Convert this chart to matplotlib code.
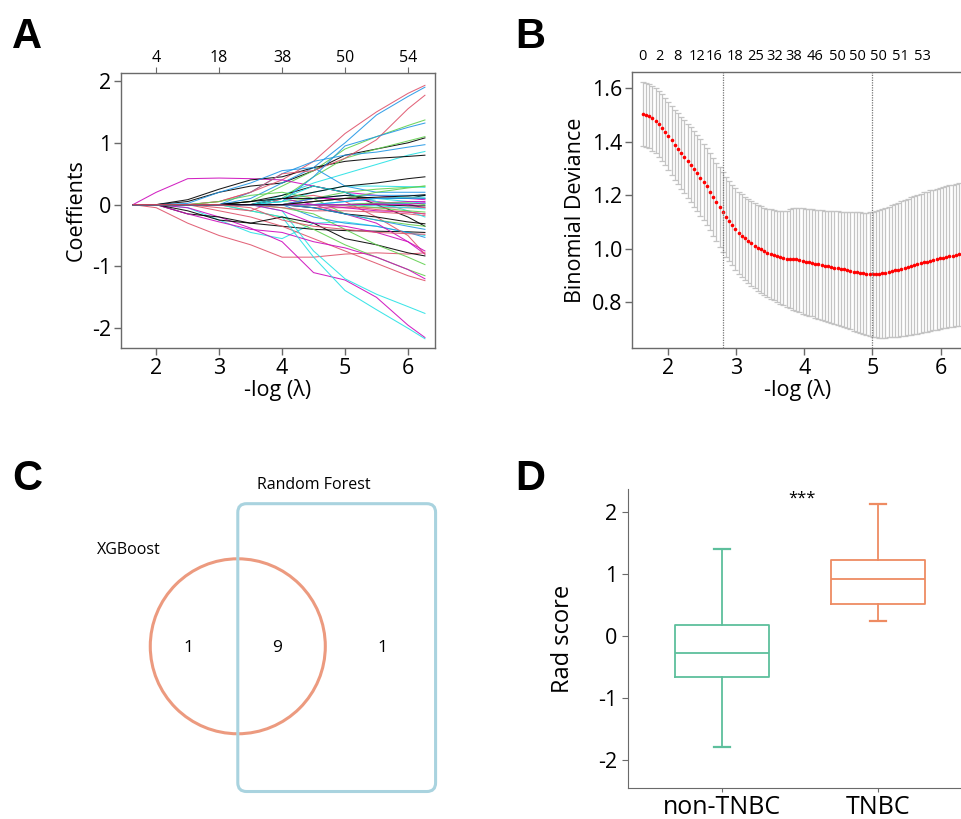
import matplotlib
matplotlib.use('Agg')
import matplotlib.pyplot as plt
from matplotlib.patches import Circle, FancyBboxPatch
import numpy as np

plt.rcParams['font.family'] = ['Open Sans', 'DejaVu Sans']
plt.rcParams['axes.unicode_minus'] = False

# ---- A: lasso coefficient paths ----
path_x = [1.63, 2.0, 2.5, 3.0, 3.5, 4.0, 4.5, 5.0, 5.5, 6.0, 6.27]
coef_paths = [
    [0, 0, 0.05, 0.2, 0.3, 0.35, 0.55, 0.8, 0.9, 1.0, 1.08],
    [0, 0, 0, 0.05, 0.2, 0.4, 0.7, 1.15, 1.5, 1.8, 1.93],
    [0, 0, 0, 0, 0.05, 0.3, 0.55, 0.9, 1.1, 1.28, 1.37],
    [0, 0, 0, 0, 0.1, 0.35, 0.6, 1.0, 1.45, 1.75, 1.9],
    [0, 0, 0, 0, 0, 0.15, 0.35, 0.5, 0.65, 0.8, 0.86],
    [0, 0.2, 0.42, 0.43, 0.42, 0.4, 0.3, 0.2, 0.15, 0.1, 0.08],
    [0, 0, 0.08, 0.25, 0.4, 0.45, 0.6, 0.7, 0.75, 0.78, 0.8],
    [0, -0.05, -0.3, -0.5, -0.65, -0.85, -0.85, -0.8, -0.78, -0.8, -0.78],
    [0, 0, 0, 0, 0, 0.1, 0.45, 0.75, 0.9, 1.03, 1.1],
    [0, 0, 0, 0, 0.2, 0.5, 0.7, 0.8, 0.85, 0.93, 0.97],
    [0, 0, -0.05, -0.25, -0.45, -0.55, -0.3, -0.28, -0.35, -0.45, -0.5],
    [0, 0, -0.05, -0.2, -0.38, -0.6, -1.1, -1.22, -1.5, -1.95, -2.15],
    [0, 0, -0.15, -0.2, -0.3, -0.35, -0.4, -0.42, -0.43, -0.44, -0.45],
    [0, 0, 0, -0.1, -0.2, -0.35, -0.55, -0.75, -0.95, -1.15, -1.23],
    [0, 0, 0, 0, -0.1, -0.2, -0.4, -0.65, -0.85, -1.05, -1.15],
    [0, 0, 0.02, 0.2, 0.35, 0.55, 0.6, 0.3, 0.2, 0.2, 0.2],
    [0, 0, 0, 0, 0, -0.1, -0.75, -1.2, -1.45, -1.65, -1.76],
    [0, 0, -0.15, -0.28, -0.4, -0.45, -0.6, -0.7, -0.85, -1.05, -1.2],
    [0, 0, 0, 0, 0.05, 0.15, 0.3, 0.2, 0.0, -0.2, -0.35],
    [0, 0, 0, 0.05, 0.2, 0.5, 0.55, 0.75, 1.05, 1.55, 1.77],
    [0, 0, 0, 0, 0, 0.05, 0.1, 0.2, 0.25, 0.28, 0.3],
    [0, 0, 0, 0, 0, 0, -0.2, -0.3, -0.35, -0.45, -0.53],
    [0, 0, 0, 0, -0.1, -0.2, -0.85, -1.39, -1.7, -2.0, -2.17],
    [0, 0, 0, 0, 0, 0.1, 0.0, -0.15, -0.3, -0.6, -0.8],
    [0, 0, -0.1, -0.25, -0.3, -0.2, -0.3, -0.55, -0.65, -0.78, -0.83],
    [0, 0, 0, -0.05, -0.1, 0.1, 0.15, 0.05, -0.2, -0.5, -0.8],
    [0, 0, 0, 0, 0, -0.05, -0.15, -0.4, -0.65, -0.85, -0.97],
    [0, 0, 0, 0, 0, 0.05, 0.45, 0.95, 1.1, 1.25, 1.32],
    [0, 0, 0, 0, 0, 0.05, 0.2, 0.3, 0.3, 0.29, 0.28],
    [0, 0, 0, 0, 0, 0, 0.1, 0.1, 0.05, 0.0, -0.05],
    [0, 0, 0, 0, 0, 0.1, 0.2, 0.3, 0.35, 0.42, 0.45],
    [0, 0, 0, 0, 0, -0.05, -0.1, -0.1, -0.12, -0.15, -0.18],
    [0, 0, 0, 0.05, 0.15, 0.2, 0.1, -0.15, -0.25, -0.32, -0.35],
    [0, 0, 0, 0, 0, 0, 0.1, 0.15, 0.15, 0.15, 0.15],
    [0, 0, 0, 0, 0, 0.1, 0.3, 0.2, 0.05, -0.1, -0.2],
    [0, 0, 0, 0, 0, -0.1, -0.3, -0.35, -0.45, -0.6, -0.75],
    [0, 0, 0, 0, 0.05, 0.1, 0.1, 0.15, 0.1, 0.1, 0.15],
    [0, 0, 0, 0, 0, 0, -0.05, -0.05, -0.05, -0.05, -0.05],
    [0, 0, 0, 0, 0, 0, 0.05, 0.1, 0.2, 0.27, 0.3],
    [0, 0, 0, 0, 0, 0, 0, 0, 0.02, 0.02, 0.02],
    [0, 0, 0, 0, 0, 0, 0.05, 0.1, 0.1, 0.05, 0.02],
    [0, 0, 0, 0, 0, 0, 0, -0.05, -0.1, -0.12, -0.15],
    [0, 0, 0, 0, 0, 0, -0.05, -0.15, -0.2, -0.28, -0.31],
    [0, 0, 0, 0, 0, 0, 0.05, 0.1, 0.1, 0.12, 0.1],
    [0, 0, 0, 0, 0, 0, 0, 0, -0.05, -0.1, -0.12],
    [0, 0, 0, 0, 0, 0, -0.05, -0.15, -0.25, -0.35, -0.4],
    [0, 0, 0, 0, 0, 0, 0, 0.05, 0.1, 0.12, 0.12],
    [0, 0, 0, 0, 0, 0, 0, 0, 0.02, 0.05, 0.05],
    [0, 0, 0, 0, 0, 0, 0, 0, 0, -0.02, -0.02],
    [0, 0, 0, 0, 0, 0, 0, -0.02, -0.08, -0.12, -0.15],
    [0, 0, 0, 0, 0, 0, 0, 0, 0.03, 0.03, 0.0],
    [0, 0, 0, 0, 0, 0, 0, 0.05, 0.1, 0.1, 0.1],
    [0, 0, 0, 0, 0, 0, 0, 0, -0.02, -0.05, -0.07],
    [0, 0, 0, 0, 0, 0, 0, 0, 0, 0, 0.03],
    [0, 0, 0, 0, 0, 0, 0.05, 0.1, 0.12, 0.14, 0.16],
    [0, 0, 0, 0, -0.05, -0.25, -0.35, -0.4, -0.45, -0.47, -0.48],
]
a_top_pos = [2, 3, 4, 5, 6]
a_top_labels = ['4', '18', '38', '50', '54']

# ---- B: cross-validation curve ----
n_lambda = 100
cv_x = np.linspace(1.63, 6.27, n_lambda)
cv_mean = [
    1.502, 1.499, 1.494, 1.487, 1.478, 1.466, 1.452, 1.437, 1.421, 1.404,
    1.387, 1.373, 1.358, 1.343, 1.328, 1.313, 1.297, 1.281, 1.265, 1.249,
    1.232, 1.213, 1.194, 1.174, 1.155, 1.136, 1.119, 1.103, 1.088, 1.073,
    1.059, 1.048, 1.038, 1.028, 1.019, 1.010, 1.003, 0.997, 0.990, 0.984,
    0.979, 0.975, 0.971, 0.967, 0.964, 0.962, 0.961, 0.960, 0.959, 0.957,
    0.953, 0.951, 0.948, 0.946, 0.943, 0.941, 0.939, 0.936, 0.934, 0.931,
    0.929, 0.927, 0.924, 0.922, 0.919, 0.917, 0.914, 0.912, 0.910, 0.907,
    0.905, 0.904, 0.903, 0.904, 0.905, 0.907, 0.909, 0.912, 0.915, 0.918,
    0.921, 0.925, 0.928, 0.931, 0.935, 0.938, 0.941, 0.944, 0.948, 0.951,
    0.954, 0.957, 0.960, 0.963, 0.966, 0.968, 0.971, 0.973, 0.976, 0.978,
]
cv_sd = [
    0.119, 0.120, 0.120, 0.121, 0.122, 0.123, 0.124, 0.126, 0.127, 0.129,
    0.131, 0.133, 0.135, 0.137, 0.139, 0.140, 0.141, 0.142, 0.143, 0.143,
    0.144, 0.145, 0.146, 0.147, 0.148, 0.149, 0.150, 0.151, 0.151, 0.152,
    0.153, 0.154, 0.155, 0.156, 0.158, 0.159, 0.160, 0.162, 0.163, 0.165,
    0.167, 0.169, 0.171, 0.173, 0.176, 0.180, 0.185, 0.190, 0.193, 0.195,
    0.197, 0.198, 0.199, 0.200, 0.202, 0.203, 0.205, 0.206, 0.208, 0.209,
    0.211, 0.213, 0.214, 0.216, 0.217, 0.219, 0.221, 0.223, 0.225, 0.227,
    0.229, 0.231, 0.233, 0.235, 0.238, 0.240, 0.242, 0.244, 0.246, 0.248,
    0.250, 0.252, 0.254, 0.256, 0.257, 0.259, 0.260, 0.261, 0.262, 0.262,
    0.263, 0.263, 0.264, 0.264, 0.265, 0.265, 0.266, 0.266, 0.267, 0.267,
]
lambda_1se = 2.81
lambda_min = 5.0
b_top_pos = [1.63, 1.87, 2.13, 2.43, 2.67, 2.99, 3.28, 3.57, 3.84, 4.16,
             4.49, 4.78, 5.09, 5.41, 5.74]
b_top_labels = ['0', '2', '8', '12', '16', '18', '25', '32', '38', '46',
                '50', '50', '50', '51', '53']

# ---- C: Venn counts ----
venn_sets = ['XGBoost', 'Random Forest']
venn_counts = [1, 9, 1]   # XGBoost only, both, Random Forest only

# ---- D: rad score box plot ----
groups = ['non-TNBC', 'TNBC']
box_whislo = [-1.79, 0.24]
box_q1 = [-0.66, 0.52]
box_med = [-0.28, 0.91]
box_q3 = [0.18, 1.23]
box_whishi = [1.40, 2.12]
group_colors = ['#5dbf9c', '#ee8b62']

palette = ['black', '#DF536B', '#61D04F', '#2297E6', '#28E2E5', '#CD0BBC']
spine_col = '#6a6a6a'

W, H = 961, 819
fig = plt.figure(figsize=(W / 100, H / 100), dpi=100)


def px_axes(left, top, right, bottom):
    return fig.add_axes([left / W, 1 - bottom / H, (right - left) / W, (bottom - top) / H])


def style_box(ax):
    for s in ax.spines.values():
        s.set_color(spine_col)
        s.set_linewidth(1.0)
    ax.tick_params(direction='out', length=5, width=1, color=spine_col,
                   labelsize=15.5, pad=2)


# panel A
ax = px_axes(121, 73, 435, 348)
for i, path in enumerate(coef_paths):
    ax.plot(path_x, path, color=palette[i % 6], lw=0.75, alpha=0.9)
ax.set_xlim(1.44, 6.43)
ax.set_ylim(-2.32, 2.13)
ax.set_xticks([2, 3, 4, 5, 6])
ax.set_yticks([-2, -1, 0, 1, 2])
style_box(ax)
ax.set_xlabel('-log (λ)', fontsize=15.5, labelpad=0)
ax.set_ylabel('Coeffients', fontsize=15.5, labelpad=4)
top = ax.twiny()
top.set_xlim(ax.get_xlim())
top.set_xticks(a_top_pos)
top.set_xticklabels(a_top_labels)
top.tick_params(direction='out', length=4, color=spine_col, labelsize=11.5, pad=1)
for s in top.spines.values():
    s.set_visible(False)

# panel B
ax = px_axes(632, 72, 963, 348)
ax.errorbar(cv_x, cv_mean, yerr=cv_sd, fmt='none', ecolor='#c4c4c4',
            elinewidth=0.9, capsize=2.2, capthick=0.9)
ax.plot(cv_x, cv_mean, 'o', color='red', markersize=2.6, markeredgewidth=0)
ax.axvline(lambda_1se, color='#777777', lw=0.9, ls=(0, (1, 1)))
ax.axvline(lambda_min, color='#777777', lw=0.9, ls=(0, (1, 1)))
ax.set_xlim(1.47, 6.33)
ax.set_ylim(0.628, 1.66)
ax.set_xticks([2, 3, 4, 5, 6])
ax.set_yticks([0.8, 1.0, 1.2, 1.4, 1.6])
ax.set_yticklabels(['0.8', '1.0', '1.2', '1.4', '1.6'])
style_box(ax)
ax.set_xlabel('-log (λ)', fontsize=15.5, labelpad=0)
ax.set_ylabel('Binomial Deviance', fontsize=15.5, labelpad=4)
top = ax.twiny()
top.set_xlim(ax.get_xlim())
top.set_xticks(b_top_pos)
top.set_xticklabels(b_top_labels)
top.tick_params(length=0, labelsize=10.5, pad=6)
for s in top.spines.values():
    s.set_visible(False)

# panel C
ax = px_axes(80, 470, 460, 800)
ax.set_xlim(-1.803, 2.539)
ax.set_ylim(-1.757, 2.015)
ax.axis('off')
ax.add_patch(Circle((0, 0), 1.0, fill=False, ec='#ec9a7f', lw=2.2))
ax.add_patch(FancyBboxPatch((0.0, -1.66), 2.26, 3.29,
                            boxstyle='round,pad=0,rounding_size=0.1',
                            fill=False, ec='#a9d3df', lw=2.2))
ax.text(-1.25, 1.10, venn_sets[0], fontsize=11.5, ha='center', va='center')
ax.text(0.87, 1.84, venn_sets[1], fontsize=11.5, ha='center', va='center')
for xpos, c in zip([-0.56, 0.45, 1.65], venn_counts):
    ax.text(xpos, -0.02, str(c), fontsize=12.5, ha='center', va='center')

# panel D
ax = px_axes(628, 489, 961, 788)
stats = []
for i, g in enumerate(groups):
    stats.append(dict(label=g, whislo=box_whislo[i], q1=box_q1[i], med=box_med[i],
                      q3=box_q3[i], whishi=box_whishi[i], fliers=[]))
bp = ax.bxp(stats, positions=[0, 1], widths=0.6, showfliers=False,
            patch_artist=False, capwidths=0.1)
for i, c in enumerate(group_colors):
    bp['boxes'][i].set(color=c, lw=1.3)
    bp['medians'][i].set(color=c, lw=1.3)
    for k in (2 * i, 2 * i + 1):
        bp['whiskers'][k].set(color=c, lw=1.3)
        bp['caps'][k].set(color=c, lw=1.6)
ax.set_xlim(-0.6, 1.53)
ax.set_ylim(-2.46, 2.37)
ax.set_yticks([-2, -1, 0, 1, 2])
ax.spines['top'].set_visible(False)
ax.spines['right'].set_visible(False)
for s in ('left', 'bottom'):
    ax.spines[s].set_color(spine_col)
ax.tick_params(axis='y', direction='out', length=4, color=spine_col, labelsize=15.5, pad=4)
ax.tick_params(axis='x', direction='out', length=3, color=spine_col, labelsize=18, pad=2)
ax.set_ylabel('Rad score', fontsize=17, labelpad=16)
ax.text(0.51, 2.22, '***', fontsize=12, ha='center', va='center')

# panel letters
for letter, x, y in [('A', 12, 48), ('B', 515, 48), ('C', 12, 490), ('D', 515, 490)]:
    fig.text(x / W, 1 - y / H, letter, fontsize=30, fontweight='bold',
             family='Liberation Sans', va='baseline', ha='left')

fig.savefig('out.png', dpi=100)
